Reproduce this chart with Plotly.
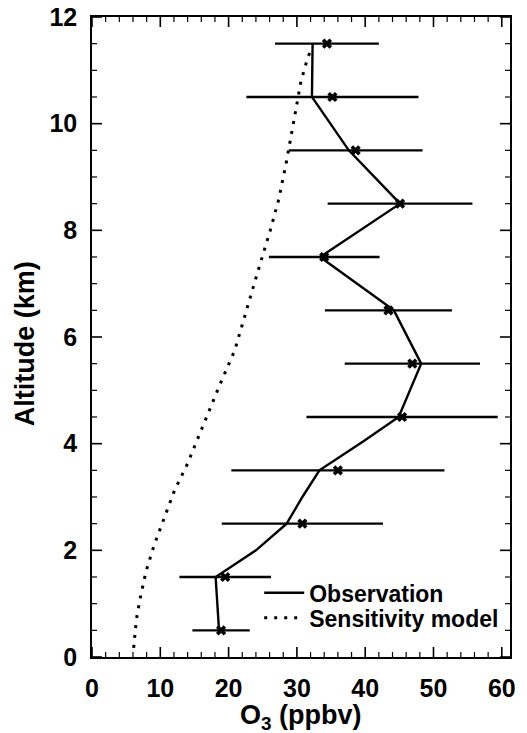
import numpy as np
import plotly.graph_objects as go

# altitude levels of the observations (km)
alt = [0.5, 1.5, 2.5, 3.5, 4.5, 5.5, 6.5, 7.5, 8.5, 9.5, 10.5, 11.5]
# O3 mean (ppbv) and half width of the bars
o3_mean = [18.9, 19.5, 30.8, 36.0, 45.4, 46.9, 43.4, 34.0, 45.1, 38.6, 35.2, 34.4]
o3_err = [4.2, 6.7, 11.8, 15.6, 14.0, 9.9, 9.3, 8.1, 10.6, 9.8, 12.6, 7.6]

# solid observation profile
obs_alt = [0.5, 1.5, 2.0, 2.5, 3.0, 3.5, 4.05, 4.5, 5.5, 6.5, 7.5, 8.5, 9.5, 10.5, 11.5]
obs_o3 = [18.6, 18.1, 24.0, 28.5, 30.8, 33.3, 39.8, 44.9, 48.2, 44.2, 33.4, 45.1, 37.6, 32.2, 32.3]

# dotted sensitivity model profile
mod_alt = [0.17, 0.7, 1.07, 1.6, 2.1, 2.63, 3.13, 3.6, 4.1, 4.6, 5.1, 5.75, 6.47,
           7.15, 8.0, 8.56, 9.24, 9.78, 10.3, 10.8, 11.2, 11.37]
mod_o3 = [6.1, 6.5, 7.0, 7.9, 9.1, 10.6, 12.1, 13.9, 15.5, 17.1, 18.7, 20.9, 22.5,
          24.1, 26.1, 27.3, 28.4, 29.2, 29.9, 30.6, 31.5, 32.0]

FONT = "Liberation Sans, Arial, Helvetica, sans-serif"
X_RANGE = [0, 61.2]
Y_RANGE = [0, 12]

fig = go.Figure()

# model (dotted)
fig.add_trace(go.Scatter(x=mod_o3, y=mod_alt, mode='lines', name='Sensitivity model',
                         legend='legend2',
                         line=dict(color='black', width=3, dash='3px,7px')))

# observation line
fig.add_trace(go.Scatter(x=obs_o3, y=obs_alt, mode='lines', name='Observation',
                         legend='legend',
                         line=dict(color='black', width=2.4)))

# means with horizontal bars
fig.add_trace(go.Scatter(x=o3_mean, y=alt, mode='markers', showlegend=False,
                         marker=dict(symbol='x', size=9, color='black'),
                         error_x=dict(type='data', array=o3_err, visible=True,
                                      width=0, thickness=2.4, color='black')))


# inward ticks on all four sides, drawn as pixel-sized shapes anchored on the frame
def add_ticks(vals, along, length, width):
    for v in vals:
        if along == 'x':
            for edge, sign in ((Y_RANGE[0], 1), (Y_RANGE[1], -1)):
                fig.add_shape(type='line', xref='x', yref='y', ysizemode='pixel',
                              yanchor=edge, x0=v, x1=v, y0=0, y1=sign * length,
                              line=dict(color='black', width=width))
        else:
            for edge, sign in ((X_RANGE[0], 1), (X_RANGE[1], -1)):
                fig.add_shape(type='line', xref='x', yref='y', xsizemode='pixel',
                              xanchor=edge, y0=v, y1=v, x0=0, x1=sign * length,
                              line=dict(color='black', width=width))


x_major = np.arange(0, 61, 10)
x_minor = [v for v in np.arange(0, 61.2, 2) if v % 10]
y_major = np.arange(0, 12.1, 2)
y_minor = [v for v in np.arange(0, 12.1, 0.5) if v % 2]
add_ticks(x_major, 'x', 10, 1.6)
add_ticks(x_minor, 'x', 5, 1.2)
add_ticks(y_major, 'y', 10, 1.6)
add_ticks(y_minor, 'y', 5, 1.2)

axis_common = dict(showline=True, linecolor='black', linewidth=1.6, mirror=True,
                   ticks='', showgrid=False, zeroline=False, automargin=False,
                   ticklabeloverflow='allow',
                   tickfont=dict(family=FONT, size=25, color='black', weight='bold'))

fig.update_layout(
    xaxis=dict(range=X_RANGE, tickmode='linear', tick0=0, dtick=10,
               ticklabelstandoff=8, **axis_common),
    yaxis=dict(range=Y_RANGE, tickmode='linear', tick0=0, dtick=2,
               ticklabelstandoff=8, **axis_common),
)

title_font = dict(family=FONT, size=27, color='black', weight='bold')
fig.add_annotation(text='O<sub>3</sub> (ppbv)', xref='paper', yref='paper',
                   x=0.5, y=-0.094, xanchor='center', yanchor='middle',
                   showarrow=False, font=title_font)
fig.add_annotation(text='Altitude (km)', xref='paper', yref='paper',
                   x=-0.16, y=0.489, xanchor='center', yanchor='middle', textangle=-90,
                   showarrow=False, font=title_font)

leg_font = dict(family=FONT, size=23, color='black', weight='bold')
fig.update_layout(
    # body of the page has an 8px margin, so the figure is a bit smaller
    width=519, height=725,
    margin=dict(l=84, r=17, t=9, b=76),
    paper_bgcolor='white', plot_bgcolor='white',
    showlegend=True,
    legend=dict(x=0.40, y=0.134, xanchor='left', yanchor='top',
                bgcolor='rgba(0,0,0,0)', itemwidth=40, font=leg_font),
    legend2=dict(x=0.40, y=0.095, xanchor='left', yanchor='top',
                 bgcolor='rgba(0,0,0,0)', itemwidth=40, font=leg_font),
)

fig.write_html("out.html")
